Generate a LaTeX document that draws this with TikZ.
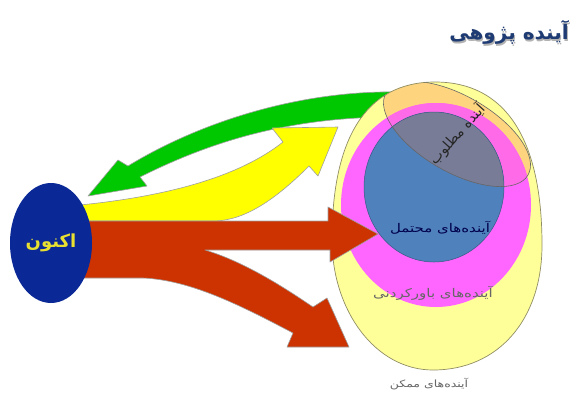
\documentclass[tikz,border=0pt]{standalone}
\usepackage{fontspec}
\usetikzlibrary{shapes.geometric}
\newfontfamily\arabicfont[Script=Arabic]{DejaVu Sans}
\newfontfamily\arabicwide[Script=Arabic,FakeStretch=1.25]{DejaVu Sans}
\TeXXeTstate=1
\definecolor{greenA}{HTML}{00C800}
\definecolor{yellowA}{HTML}{FFFF00}
\definecolor{redA}{HTML}{CC3300}
\definecolor{navyE}{HTML}{0A2896}
\definecolor{nowtext}{HTML}{E8E030}
\definecolor{bigY}{HTML}{FFFF99}
\definecolor{magE}{HTML}{FF66FF}
\definecolor{blueC}{HTML}{4F81BD}
\definecolor{orY}{HTML}{FFD47F}
\definecolor{orM}{HTML}{FF6AE8}
\definecolor{orB}{HTML}{787C96}
\definecolor{titleC}{HTML}{1F3B73}
\tikzset{
  arrowshape/.style={draw=gray!75, line width=0.6pt, line join=round},
  lbl/.style={font=\arabicwide\fontsize{12}{14}\selectfont, inner sep=0pt},
}
\begin{document}
\begin{tikzpicture}[x=1pt,y=-1pt]
\useasboundingbox (0,0) rectangle (585,394);

% green arrow (under the ellipses)
\path[arrowshape, fill=greenA] (400,92) .. controls (300,90) and (200,122) .. (128,166)
  -- (118,160) -- (88,196) -- (147,186) -- (140,177)
  .. controls (210,142) and (290,116) .. (400,117) -- cycle;

% ellipses
\def\bigEll{(435,82) .. controls (505,82) and (542,138) .. (542,245)
  .. controls (542,320) and (498,370) .. (433,370)
  .. controls (375,370) and (332,310) .. (332,240)
  .. controls (332,140) and (365,82) .. (435,82) -- cycle}
\def\magEll{(436,205) ellipse [x radius=95pt, y radius=102pt]}
\def\blueEll{(434,187) ellipse [x radius=70pt, y radius=75pt]}
\def\orEll{(457,134) ellipse [x radius=82pt, y radius=38pt, rotate=-30]}
\fill[bigY] \bigEll;
\begin{scope}
  \clip \bigEll;
  \fill[orY] \orEll;
\end{scope}
\fill[magE] \magEll;
\begin{scope}
  \clip \orEll;
  \fill[orM] \magEll;
\end{scope}
\fill[blueC] \blueEll;
\begin{scope}
  \clip \orEll;
  \fill[orB] \blueEll;
\end{scope}
\draw[color=gray!70!olive, line width=0.7pt] \bigEll;
\draw[color=blueC!70!black, line width=0.5pt] \blueEll;
\begin{scope}
  \clip \bigEll;
  \draw[color=black!60, line width=0.6pt] \orEll;
\end{scope}

% yellow arrow
\path[arrowshape, fill=yellowA] (80,205) .. controls (170,196) and (240,176) .. (283,142)
  -- (272,128) -- (338,127) -- (318,176) -- (309,166)
  .. controls (275,200) and (245,220) .. (215,221) -- (80,221) -- cycle;

% red arrows
\path[arrowshape, fill=redA] (80,221) -- (328,221) -- (328,207) -- (378,234) -- (330,262)
  -- (330,250) -- (205,250)
  .. controls (245,262) and (285,288) .. (313,307)
  -- (327,298) -- (349,347) -- (287,347) -- (293,333)
  .. controls (240,305) and (190,280) .. (143,278)
  -- (80,278) -- cycle;

% now ellipse
\node[ellipse, minimum width=82pt, minimum height=120pt, fill=navyE, inner sep=0pt] (now) at (51,243) {};
\node[font=\arabicfont\bfseries\fontsize{18}{20}\selectfont, text=nowtext] (nowlbl) at (now.center) {\beginR اکنون\endR};

% labels
\node[lbl, font=\arabicfont\fontsize{14}{16}\selectfont, text=black!85, rotate=48] (desired) at (457,134) {\beginR آینده مطلوب\endR};
\node[lbl, text=black!70!blue] (probable) at (440,228) {\beginR آینده‌های محتمل\endR};
\node[lbl, text=black!60] (plausible) at (433,293) {\beginR آینده‌های باورکردنی\endR};
\node[lbl, text=black!60, font=\arabicwide\fontsize{10}{12}\selectfont] (possible) at (429,384) {\beginR آینده‌های ممکن\endR};

% title
\node[font=\arabicfont\bfseries\fontsize{20}{22}\selectfont, text=gray!60] at (510,34) {\beginR آینده پژوهی\endR};
\node[font=\arabicfont\bfseries\fontsize{20}{22}\selectfont, text=titleC] (title) at (509,32) {\beginR آینده پژوهی\endR};
\end{tikzpicture}
\end{document}
